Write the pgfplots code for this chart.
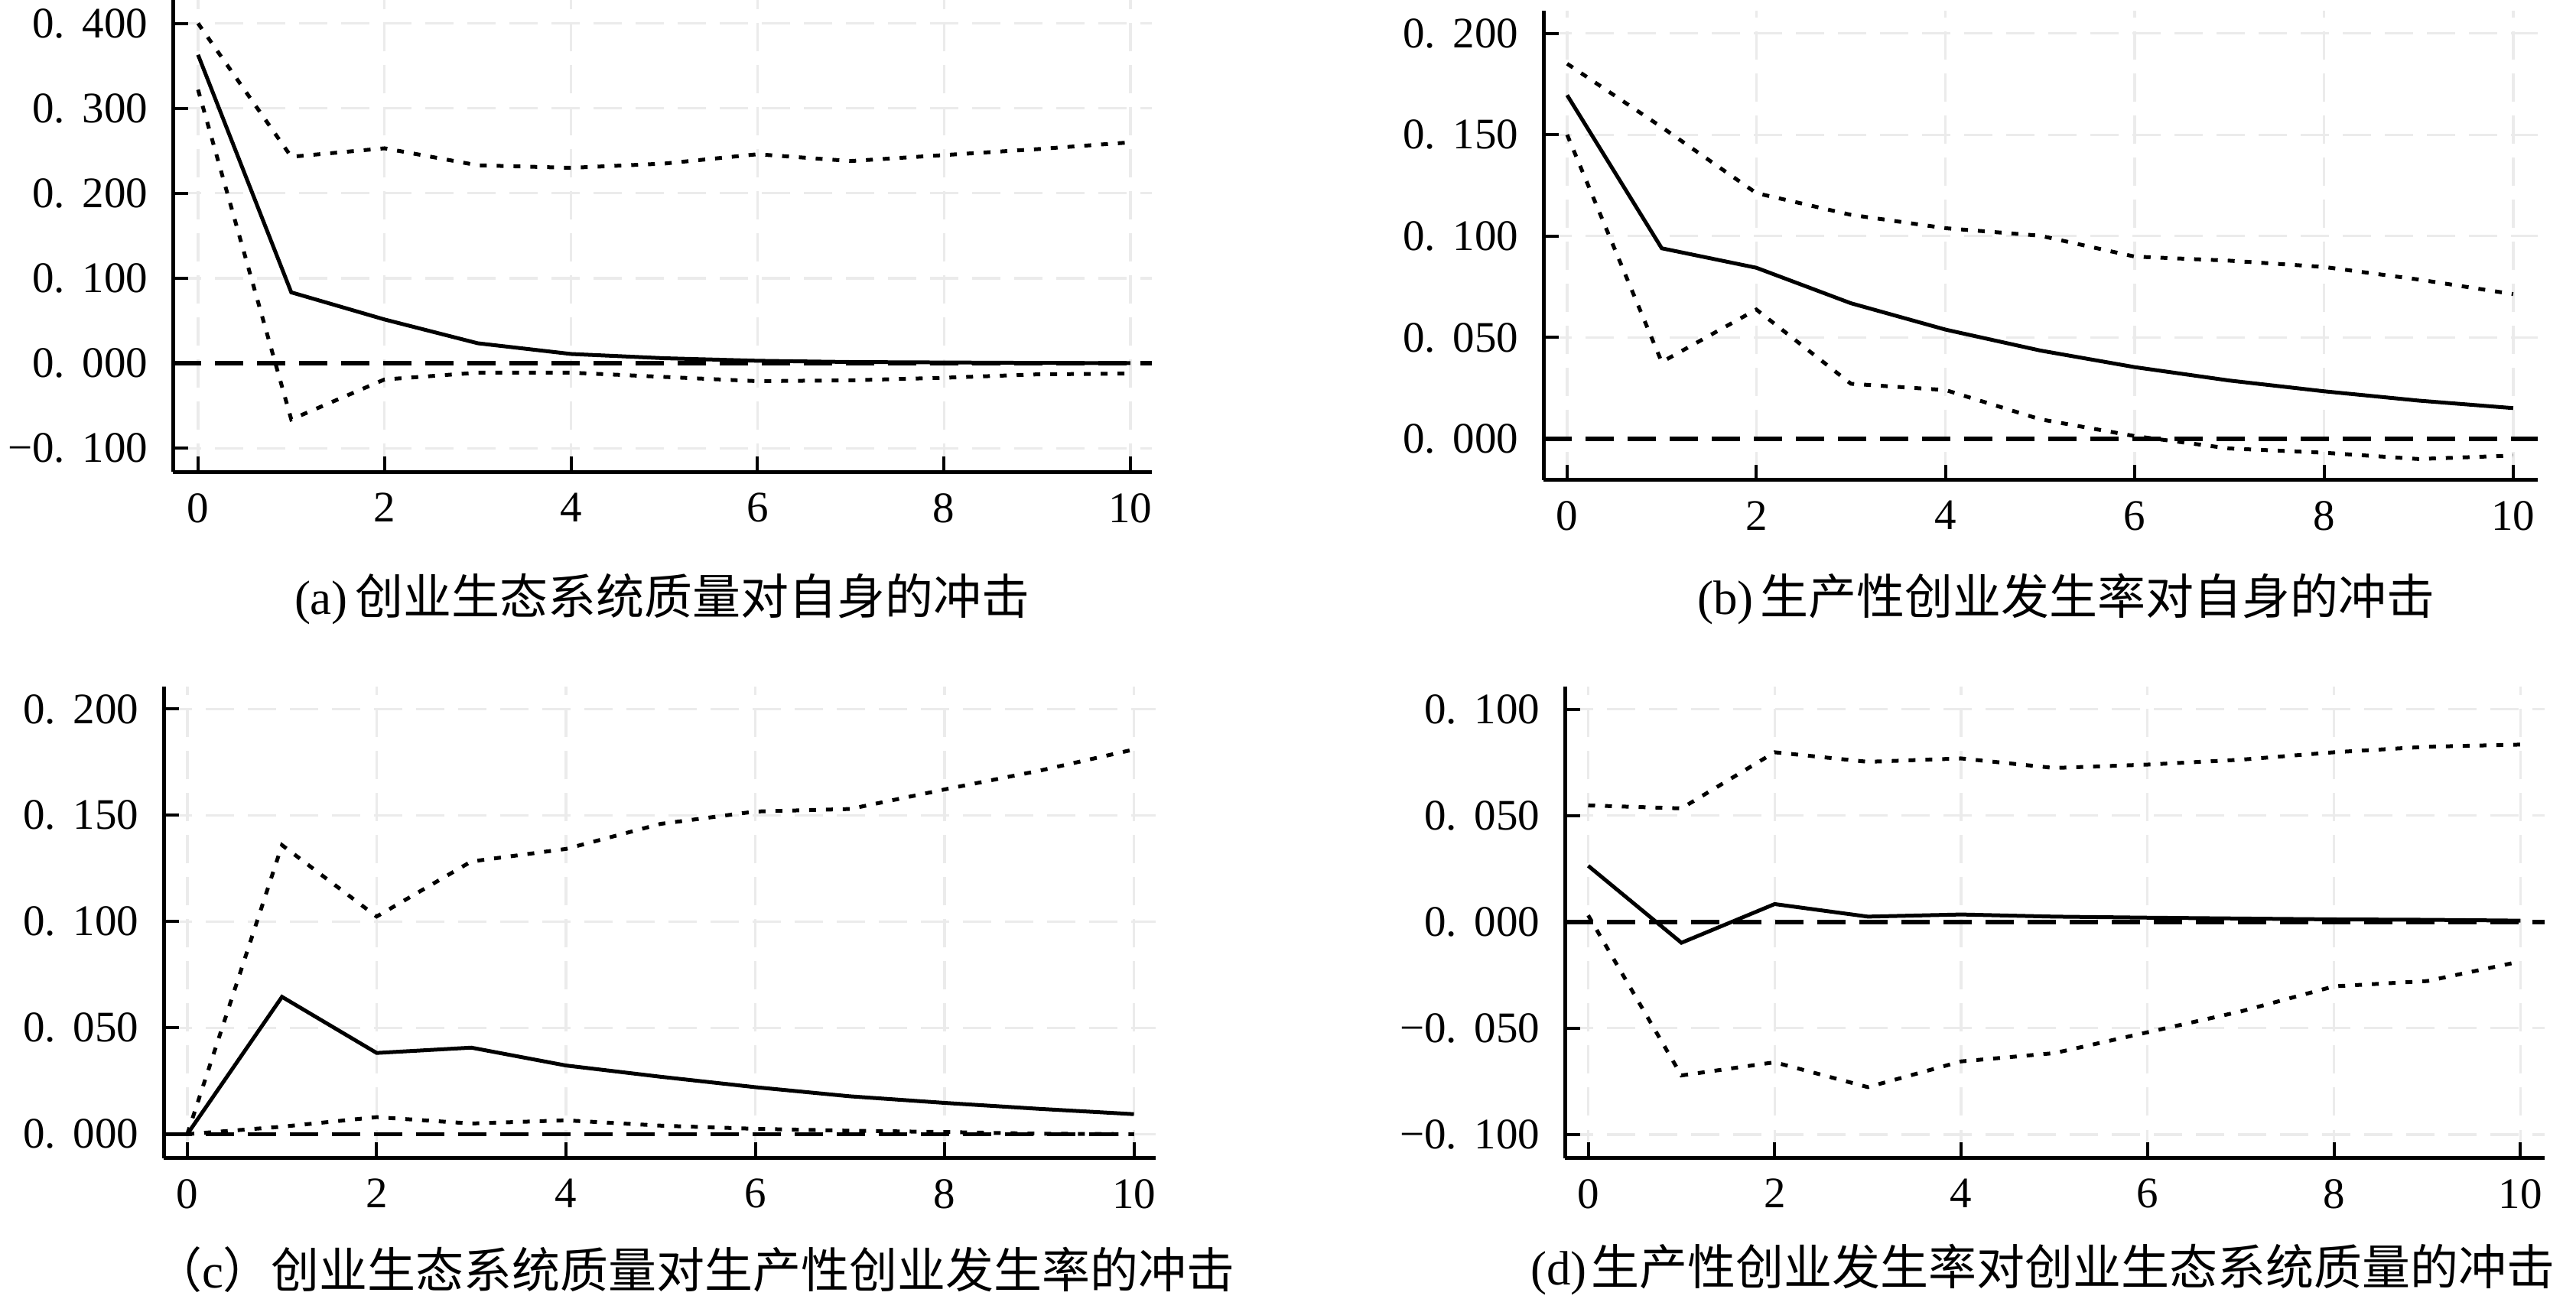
\documentclass[border=0pt]{standalone}
\usepackage{pgfplots}
\usepackage{pgfplotstable}
\pgfplotsset{compat=1.18}
\usepackage{fontspec}
\setmainfont{Liberation Serif}
\newfontfamily\cjk{Noto Sans CJK SC}

\pgfplotstableread{
x mid up lo
0 0.363 0.400 0.322
1 0.0835 0.243 -0.066
2 0.0516 0.253 -0.019
3 0.0236 0.233 -0.011
4 0.011 0.230 -0.011
5 0.006 0.235 -0.016
6 0.003 0.246 -0.021
7 0.0015 0.238 -0.020
8 0.001 0.245 -0.017
9 0.0005 0.252 -0.013
10 0.0003 0.260 -0.012
}\tabA
\pgfplotstableread{
x mid up lo
0 0.1695 0.185 0.150
1 0.094 0.1537 0.0379
2 0.0844 0.1212 0.0638
3 0.0669 0.1105 0.0272
4 0.0539 0.1039 0.0241
5 0.0436 0.1002 0.0097
6 0.0354 0.0899 0.0014
7 0.0288 0.0879 -0.0047
8 0.0235 0.0848 -0.0068
9 0.0189 0.0786 -0.0099
10 0.0152 0.0714 -0.0082
}\tabB
\pgfplotstableread{
x mid up lo
0 0 0 0
1 0.0646 0.136 0.0035
2 0.0382 0.1024 0.008
3 0.0407 0.1283 0.005
4 0.0323 0.1342 0.0065
5 0.027 0.146 0.004
6 0.0221 0.1518 0.0025
7 0.0178 0.153 0.0016
8 0.0147 0.1622 0.001
9 0.0119 0.171 0.0002
10 0.0094 0.181 0
}\tabC
\pgfplotstableread{
x mid up lo
0 0.0264 0.0548 0.0031
1 -0.0098 0.0534 -0.0722
2 0.0084 0.0798 -0.066
3 0.0025 0.0753 -0.0777
4 0.0035 0.0769 -0.0656
5 0.0025 0.0724 -0.0617
6 0.002 0.074 -0.0519
7 0.0016 0.0763 -0.0421
8 0.0012 0.0798 -0.0303
9 0.001 0.0824 -0.0278
10 0.0006 0.0834 -0.0186
}\tabD

\newcommand\tl[2]{#1.\hspace{0.4em}#2}

\pgfplotsset{
  irf/.style={
    scale only axis,
    anchor=south west,
    axis x line=bottom,
    axis y line=left,
    axis line style={-, line width=1pt, black},
    tick align=inside,
    major tick length=4pt,
    tick style={black, line width=0.8pt},
    xtick={0,2,4,6,8,10},
    xticklabels={0,2,4,6,8,10},
    grid=major,
    major grid style={draw=black!8, line width=0.65pt, dash pattern=on 7.4pt off 3.6pt},
    ticklabel style={font=\fontsize{11.4}{13}\selectfont},
    xticklabel style={anchor=north, yshift=-2pt},
    yticklabel style={anchor=east, xshift=-3pt},
    clip=false,
  },
  mid/.style={black, line width=1pt},
  band/.style={black, line width=1pt, dash pattern=on 1.8pt off 2.6pt},
  zero/.style={black, line width=1.1pt, dash pattern=on 7.4pt off 3.6pt},
}

\begin{document}
\begin{tikzpicture}
\useasboundingbox (0,0) rectangle (673.6pt,339.6pt);

% (a)
\begin{axis}[irf, at={(45.2pt,216.1pt)}, width=256pt, height=123.5pt,
  xmin=-0.27, xmax=10.23, ymin=-0.128, ymax=0.4275,
  ytick={-0.1,0,0.1,0.2,0.3,0.4},
  yticklabels={−\tl{0}{100},\tl{0}{000},\tl{0}{100},\tl{0}{200},\tl{0}{300},\tl{0}{400}}]
\addplot[zero] coordinates {(-0.27,0) (10.23,0)};
\addplot[band] table[x=x,y=up] {\tabA};
\addplot[band] table[x=x,y=lo] {\tabA};
\addplot[mid] table[x=x,y=mid] {\tabA};
\end{axis}

% (b)
\begin{axis}[irf, at={(403.6pt,214.06pt)}, width=260pt, height=122.82pt,
  xmin=-0.25, xmax=10.26, ymin=-0.0202, ymax=0.2113,
  ytick={0,0.05,0.1,0.15,0.2},
  yticklabels={\tl{0}{000},\tl{0}{050},\tl{0}{100},\tl{0}{150},\tl{0}{200}}]
\addplot[zero] coordinates {(-0.25,0) (10.26,0)};
\addplot[band] table[x=x,y=up] {\tabB};
\addplot[band] table[x=x,y=lo] {\tabB};
\addplot[mid] table[x=x,y=mid] {\tabB};
\end{axis}

% (c)
\begin{axis}[irf, at={(42.8pt,36.7pt)}, width=259.4pt, height=123.3pt,
  xmin=-0.25, xmax=10.23, ymin=-0.0112, ymax=0.2106,
  ytick={0,0.05,0.1,0.15,0.2},
  yticklabels={\tl{0}{000},\tl{0}{050},\tl{0}{100},\tl{0}{150},\tl{0}{200}}]
\addplot[zero] coordinates {(-0.25,0) (10.0,0)};
\addplot[band] table[x=x,y=up] {\tabC};
\addplot[band] table[x=x,y=lo] {\tabC};
\addplot[mid] table[x=x,y=mid] {\tabC};
\end{axis}

% (d)
\begin{axis}[irf, at={(409.2pt,36.7pt)}, width=256.2pt, height=123.3pt,
  xmin=-0.25, xmax=10.26, ymin=-0.111, ymax=0.1107,
  ytick={-0.1,-0.05,0,0.05,0.1},
  yticklabels={−\tl{0}{100},−\tl{0}{050},\tl{0}{000},\tl{0}{050},\tl{0}{100}}]
\addplot[zero] coordinates {(-0.25,0) (10.26,0)};
\addplot[band] table[x=x,y=up] {\tabD};
\addplot[band] table[x=x,y=lo] {\tabD};
\addplot[mid] table[x=x,y=mid] {\tabD};
\end{axis}

\begin{scope}[every node/.style={anchor=west, inner sep=0pt, font=\fontsize{12.6}{14}\selectfont}]
\node at (76.8pt,182.8pt) {(a)\hspace{0.15em}{\cjk 创业生态系统质量对自身的冲击}};
\node at (443.6pt,182.8pt) {(b)\hspace{0.15em}{\cjk 生产性创业发生率对自身的冲击}};
\node at (40pt,7.4pt) {{\cjk （}c{\cjk ）创业生态系统质量对生产性创业发生率的冲击}};
\node at (400pt,7.4pt) {(d)\hspace{0.1em}{\cjk 生产性创业发生率对创业生态系统质量的冲击}};
\end{scope}
\end{tikzpicture}
\end{document}
